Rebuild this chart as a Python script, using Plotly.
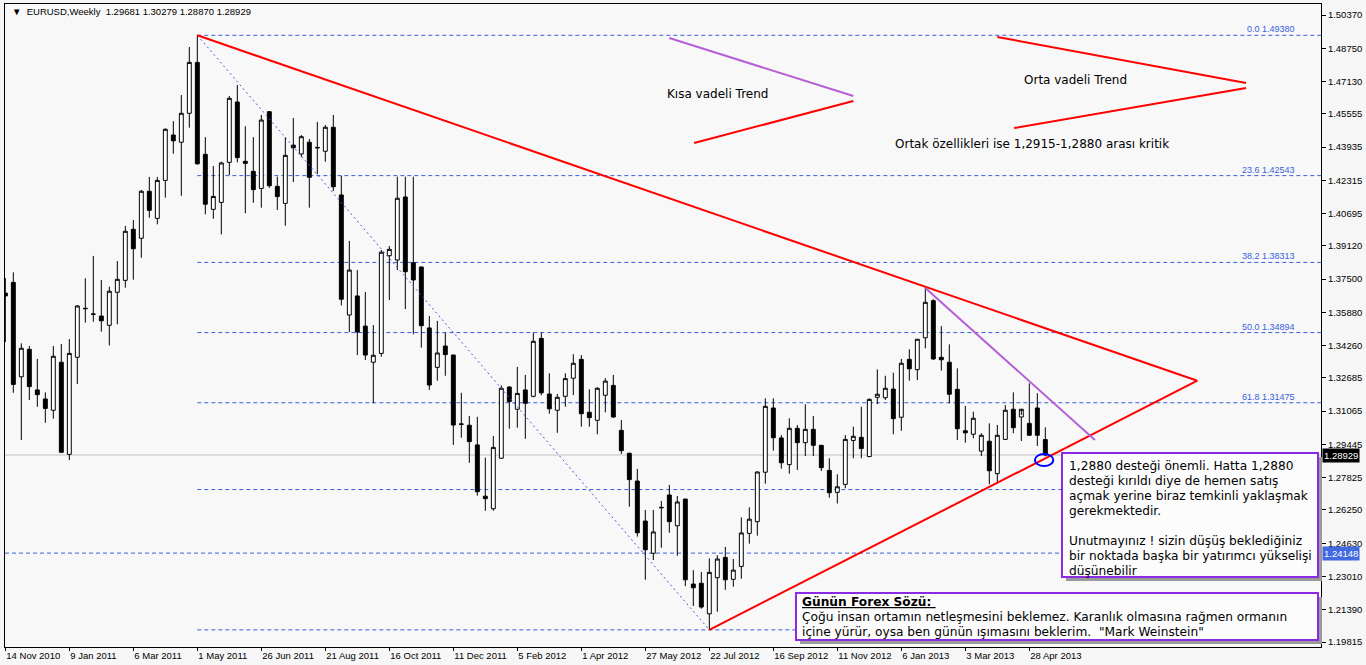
import plotly.graph_objects as go

# weekly bars, index 0 = week of 14 Nov 2010
opens = [1.3682, 1.3734, 1.3274, 1.3408, 1.3210, 1.3166, 1.3111, 1.3345, 1.2896, 1.3369,
         1.3608, 1.3578, 1.3570, 1.3525, 1.3686, 1.3744, 1.3993, 1.3949, 1.4178, 1.4046,
         1.4231, 1.4452, 1.4417, 1.4558, 1.4806, 1.4358, 1.4090, 1.4124, 1.4319, 1.4613,
         1.4324, 1.4275, 1.4192, 1.4566, 1.4202, 1.4119, 1.4403, 1.4360, 1.4417, 1.4392,
         1.4373, 1.4490, 1.4160, 1.3575, 1.3668, 1.3521, 1.3345, 1.3388, 1.3864, 1.3843,
         1.4150, 1.3830, 1.3809, 1.3512, 1.3320, 1.3424, 1.3380, 1.3042, 1.3038, 1.2942,
         1.2692, 1.2631, 1.2877, 1.3224, 1.3116, 1.3210, 1.3179, 1.3461, 1.3190, 1.3111,
         1.3179, 1.3267, 1.3359, 1.3101, 1.3062, 1.3184, 1.3232, 1.3013, 1.2901, 1.2766,
         1.2571, 1.2414, 1.2638, 1.2698, 1.2548, 1.2678, 1.2264, 1.2268, 1.2119, 1.2295,
         1.2394, 1.2287, 1.2350, 1.2511, 1.2568, 1.2809, 1.3122, 1.2976, 1.2846, 1.3023,
         1.2953, 1.3018, 1.2940, 1.2818, 1.2711, 1.2750, 1.2964, 1.2979, 1.2885, 1.3174,
         1.3172, 1.3214, 1.3077, 1.3359, 1.3309, 1.3464, 1.3645, 1.3369, 1.3345, 1.3213,
         1.3011, 1.2994, 1.2912, 1.2960, 1.2802, 1.2969, 1.3116, 1.3078, 1.3047, 1.3122,
         1.29681]
highs = [1.3755, 1.3783, 1.3437, 1.3424, 1.3361, 1.3198, 1.3424, 1.3434, 1.3458, 1.3624,
         1.3754, 1.3863, 1.3746, 1.3713, 1.3838, 1.4009, 1.4038, 1.4184, 1.4248, 1.4248,
         1.4485, 1.4520, 1.4647, 1.4881, 1.4938, 1.4442, 1.4301, 1.4322, 1.4642, 1.4696,
         1.4495, 1.4442, 1.4550, 1.4568, 1.4249, 1.4441, 1.4535, 1.4452, 1.4433, 1.4516,
         1.4501, 1.4550, 1.4254, 1.3936, 1.3794, 1.3687, 1.3526, 1.3892, 1.3911, 1.4249,
         1.4249, 1.4249, 1.3811, 1.3570, 1.3546, 1.3489, 1.3382, 1.3196, 1.3083, 1.3079,
         1.2880, 1.2985, 1.3232, 1.3229, 1.3322, 1.3283, 1.3489, 1.3489, 1.3291, 1.3190,
         1.3291, 1.3384, 1.3380, 1.3213, 1.3223, 1.3267, 1.3283, 1.3063, 1.2905, 1.2825,
         1.2625, 1.2625, 1.2669, 1.2747, 1.2693, 1.2680, 1.2332, 1.2323, 1.2389, 1.2404,
         1.2445, 1.2386, 1.2589, 1.2638, 1.2813, 1.3169, 1.3169, 1.2990, 1.3072, 1.3039,
         1.3140, 1.3083, 1.2942, 1.2877, 1.2799, 1.2990, 1.3031, 1.3128, 1.3169, 1.3310,
         1.3279, 1.3294, 1.3361, 1.3408, 1.3457, 1.3710, 1.3652, 1.3521, 1.3432, 1.3315,
         1.3132, 1.3104, 1.2999, 1.3047, 1.3039, 1.3136, 1.3198, 1.3088, 1.3242, 1.3194,
         1.30279]
lows = [1.3443, 1.3196, 1.2966, 1.3161, 1.3128, 1.3050, 1.3070, 1.2904, 1.2868, 1.3239,
        1.3538, 1.3542, 1.3494, 1.3427, 1.3530, 1.3708, 1.3747, 1.3854, 1.4049, 1.4017,
        1.4147, 1.4361, 1.4156, 1.4488, 1.4307, 1.4066, 1.4044, 1.3968, 1.4257, 1.4319,
        1.4071, 1.4122, 1.4098, 1.4195, 1.4087, 1.4010, 1.4223, 1.4344, 1.4098, 1.4261,
        1.4322, 1.4179, 1.3622, 1.3492, 1.3380, 1.3356, 1.3145, 1.3372, 1.3648, 1.3794,
        1.3604, 1.3481, 1.3416, 1.3210, 1.3255, 1.3279, 1.2942, 1.2977, 1.2855, 1.2695,
        1.2621, 1.2621, 1.2875, 1.3021, 1.3026, 1.2972, 1.3174, 1.3184, 1.3094, 1.3001,
        1.3128, 1.3185, 1.3031, 1.3031, 1.2994, 1.3101, 1.3075, 1.2898, 1.2641, 1.2495,
        1.2285, 1.2381, 1.2441, 1.2514, 1.2402, 1.2254, 1.2157, 1.2144, 1.2041, 1.2129,
        1.2236, 1.2251, 1.2290, 1.2461, 1.2500, 1.2753, 1.2914, 1.2826, 1.2802, 1.2820,
        1.2888, 1.2888, 1.2815, 1.2685, 1.2657, 1.2731, 1.2877, 1.2877, 1.2883, 1.3141,
        1.3161, 1.2994, 1.3011, 1.3255, 1.3258, 1.3413, 1.3356, 1.3304, 1.3145, 1.2966,
        1.2953, 1.2974, 1.2888, 1.2750, 1.2752, 1.2967, 1.2999, 1.2961, 1.3031, 1.2937,
        1.28870]
closes = [1.3668, 1.3237, 1.3413, 1.3226, 1.3187, 1.3120, 1.3374, 1.2906, 1.3388, 1.3619,
          1.3606, 1.3580, 1.3547, 1.3691, 1.3749, 1.3983, 1.3898, 1.4178, 1.4085, 1.4231,
          1.4480, 1.4424, 1.4558, 1.4806, 1.4312, 1.4115, 1.4153, 1.4316, 1.4631, 1.4342,
          1.4314, 1.4186, 1.4525, 1.4205, 1.4152, 1.4353, 1.4390, 1.4444, 1.4246, 1.4390,
          1.4490, 1.4200, 1.3652, 1.3794, 1.3492, 1.3380, 1.3379, 1.3881, 1.3895, 1.4144,
          1.3786, 1.3746, 1.3523, 1.3234, 1.3390, 1.3382, 1.3039, 1.3044, 1.2958, 1.2714,
          1.2680, 1.2930, 1.3218, 1.3153, 1.3193, 1.3145, 1.3447, 1.3196, 1.3118, 1.3174,
          1.3265, 1.3340, 1.3094, 1.3075, 1.3218, 1.3253, 1.3078, 1.2914, 1.2773, 1.2514,
          1.2431, 1.2518, 1.2636, 1.2568, 1.2664, 1.2285, 1.2246, 1.2152, 1.2321, 1.2386,
          1.2285, 1.2332, 1.2513, 1.2580, 1.2810, 1.3130, 1.2977, 1.2855, 1.3023, 1.2953,
          1.3018, 1.2940, 1.2831, 1.2709, 1.2738, 1.2969, 1.2984, 1.2924, 1.3164, 1.3189,
          1.3218, 1.3070, 1.3340, 1.3313, 1.3457, 1.3637, 1.3361, 1.3357, 1.3189, 1.3021,
          1.3001, 1.3072, 1.2989, 1.2816, 1.2989, 1.3111, 1.3026, 1.3116, 1.2989, 1.2989,
          1.28929]
bars = list(range(len(opens)))

date_ticks = [0, 8, 16, 24, 32, 40, 48, 56, 64, 72, 80, 88, 96, 104, 112, 120, 128]
date_labels = ["14 Nov 2010", "9 Jan 2011", "6 Mar 2011", "1 May 2011", "26 Jun 2011",
               "21 Aug 2011", "16 Oct 2011", "11 Dec 2011", "5 Feb 2012", "1 Apr 2012",
               "27 May 2012", "22 Jul 2012", "16 Sep 2012", "11 Nov 2012", "6 Jan 2013",
               "3 Mar 2013", "28 Apr 2013"]
price_ticks = [1.50370, 1.48750, 1.47130, 1.45555, 1.43935, 1.42315, 1.40695, 1.39120,
               1.37500, 1.35880, 1.34260, 1.32685, 1.31065, 1.29445, 1.27825, 1.26250,
               1.24630, 1.23010, 1.21390, 1.19815]

fib_levels = [1.49380, 1.42543, 1.38313, 1.34894, 1.31475, 1.27245, 1.20407]
fib_names = ["0.0", "23.6", "38.2", "50.0", "61.8", "76.4", "100.0"]
fib_shown = [True, True, True, True, True, False, False]
fib_start = 24
last_price = 1.28929
hline_price = 1.24148

# trend lines: (bar0, price0, bar1, price1)
red_lines = [(24, 1.4938, 149, 1.3255), (88, 1.2041, 149, 1.3255),
             (86.1, 1.4413, 106.0, 1.4618), (124.0, 1.4930, 155.1, 1.4706),
             (126.1, 1.4486, 155.1, 1.4681)]
purple_lines = [(115, 1.3707, 136.2, 1.2966), (83.0, 1.4925, 106.0, 1.4642)]
fib_trend = (24, 1.4938, 88, 1.2041)

note1_lines = ["1,2880 desteği önemli. Hatta 1,2880", "desteği kırıldı diye de hemen satış",
               "açmak yerine biraz temkinli yaklaşmak", "gerekmektedir.", "",
               "Unutmayınız ! sizin düşüş beklediğiniz", "bir noktada başka bir yatırımcı yükselişi",
               "düşünebilir"]
note2_lines = ["<b><span style='text-decoration:underline'>Günün Forex Sözü: </span></b>",
               "Çoğu insan ortamın netleşmesini beklemez. Karanlık olmasına rağmen ormanın",
               "içine yürür, oysa ben günün ışımasını beklerim.  \"Mark Weinstein\""]

X0, X1 = -0.04, 164.46
Y0, Y1 = 1.19573, 1.50906
L, R, T, B = 5, 45, 4, 18
W, H = 1366, 665


def px(x):
    return (x - L) / (W - L - R)


def py(y):
    return (H - B - y) / (H - T - B)


fig = go.Figure(go.Candlestick(
    x=bars, open=opens, high=highs, low=lows, close=closes,
    increasing=dict(line=dict(color="black", width=1), fillcolor="white"),
    decreasing=dict(line=dict(color="black", width=1), fillcolor="black"),
    whiskerwidth=0, hoverinfo="skip",
))

shapes = []
# bid line and horizontal line
shapes.append(dict(type="line", xref="paper", x0=0, x1=1, yref="y", y0=last_price, y1=last_price,
                   line=dict(color="#c0c0c0", width=1), layer="below"))
shapes.append(dict(type="line", xref="paper", x0=0, x1=1, yref="y", y0=hline_price, y1=hline_price,
                   line=dict(color="#3a5fe0", width=1, dash="4px,3px"), layer="below"))
for lv in fib_levels:
    shapes.append(dict(type="line", xref="x", x0=fib_start, x1=X1, yref="y", y0=lv, y1=lv,
                       line=dict(color="#3a5fe0", width=1, dash="4px,3px"), layer="below"))
shapes.append(dict(type="line", xref="x", yref="y", x0=fib_trend[0], y0=fib_trend[1],
                   x1=fib_trend[2], y1=fib_trend[3],
                   line=dict(color="#3a5fe0", width=1, dash="2px,3px")))
for a, b, c, d in red_lines:
    shapes.append(dict(type="line", xref="x", yref="y", x0=a, y0=b, x1=c, y1=d,
                       line=dict(color="#ff0000", width=2)))
for a, b, c, d in purple_lines:
    shapes.append(dict(type="line", xref="x", yref="y", x0=a, y0=b, x1=c, y1=d,
                       line=dict(color="#b55fd6", width=2)))
shapes.append(dict(type="circle", xref="x", yref="y", x0=128.7, x1=131.0, y0=1.2839, y1=1.2898,
                   line=dict(color="#0000ff", width=2)))

# note boxes with shadow
for (x0, y0, x1, y1) in [(1062, 453, 1318, 577), (796, 593, 1318, 640)]:
    shapes.append(dict(type="rect", xref="paper", yref="paper",
                       x0=px(x0 + 4), x1=px(x1 + 4), y0=py(y1 + 4), y1=py(y0 + 4),
                       fillcolor="#9a9a9a", line=dict(width=0)))
    shapes.append(dict(type="rect", xref="paper", yref="paper",
                       x0=px(x0), x1=px(x1), y0=py(y1), y1=py(y0),
                       fillcolor="#fcfcfc", line=dict(color="#8a2be2", width=2)))

ann = []
for lv, nm, sh in zip(fib_levels, fib_names, fib_shown):
    if sh:
        ann.append(dict(x=161.5, y=lv, xref="x", yref="y", text=f"{nm} {lv:.5f}",
                        showarrow=False, xanchor="right", yanchor="bottom", yshift=-1,
                        font=dict(family="Liberation Sans", size=9, color="#3a5fe0")))

ann.append(dict(x=1, y=last_price, xref="paper", yref="y", text=f"{last_price:.5f}",
                showarrow=False, xanchor="left", xshift=1, bgcolor="#000000", borderpad=1,
                font=dict(family="Liberation Sans", size=9.5, color="white")))
ann.append(dict(x=1, y=hline_price, xref="paper", yref="y", text=f"{hline_price:.5f}",
                showarrow=False, xanchor="left", xshift=1, bgcolor="#4169e1", borderpad=1,
                font=dict(family="Liberation Sans", size=9.5, color="white")))

header = "▼  EURUSD,Weekly  " + " ".join(f"{v:.5f}" for v in (opens[-1], highs[-1], lows[-1], closes[-1]))
ann.append(dict(x=px(10), y=py(12), xref="paper", yref="paper", text=header, showarrow=False,
                xanchor="left", yanchor="middle",
                font=dict(family="Liberation Sans", size=9.5, color="black")))

txt_font = dict(family="DejaVu Sans", size=12, color="#000000")
ann.append(dict(x=px(665), y=py(94), xref="paper", yref="paper", text="Kısa vadeli Trend",
                showarrow=False, xanchor="left", yanchor="middle", font=txt_font))
ann.append(dict(x=px(1022), y=py(80), xref="paper", yref="paper", text="Orta vadeli Trend",
                showarrow=False, xanchor="left", yanchor="middle", font=txt_font))
ann.append(dict(x=px(893), y=py(144), xref="paper", yref="paper",
                text="Ortak özellikleri ise 1,2915-1,2880 arası kritik",
                showarrow=False, xanchor="left", yanchor="middle", font=txt_font))

note_font = dict(family="DejaVu Sans", size=12.2, color="black")
for i, line in enumerate(note1_lines):
    if line:
        ann.append(dict(x=px(1067), y=py(466 + 15 * i), xref="paper", yref="paper", text=line,
                        showarrow=False, xanchor="left", yanchor="middle", font=note_font))
for i, line in enumerate(note2_lines):
    ann.append(dict(x=px(800), y=py(602 + 15 * i), xref="paper", yref="paper", text=line,
                    showarrow=False, xanchor="left", yanchor="middle", font=note_font))

fig.update_layout(
    width=W, height=H, autosize=False,
    margin=dict(l=L, r=R, t=T, b=B),
    paper_bgcolor="#f6f6f6", plot_bgcolor="#f8f8f8",
    showlegend=False, hovermode=False,
    shapes=shapes, annotations=ann,
    xaxis=dict(range=[X0, X1], rangeslider=dict(visible=False), showgrid=False, zeroline=False,
               tickmode="array", tickvals=date_ticks, ticktext=date_labels,
               ticks="outside", ticklen=3, tickcolor="black", ticklabelposition="outside right",
               tickfont=dict(family="Liberation Sans", size=9.5, color="black"),
               showline=True, linecolor="black", linewidth=1, mirror=True),
    yaxis=dict(range=[Y0, Y1], side="right", showgrid=False, zeroline=False,
               tickmode="array", tickvals=price_ticks, ticktext=[f"{v:.5f}" for v in price_ticks],
               ticks="outside", ticklen=4, tickcolor="black",
               tickfont=dict(family="Liberation Sans", size=9.5, color="black"),
               showline=True, linecolor="black", linewidth=1, mirror=True),
)

fig.write_html("out.html", config={"displayModeBar": False},
               post_script="document.body.style.margin='0';document.body.style.overflow='hidden';")
